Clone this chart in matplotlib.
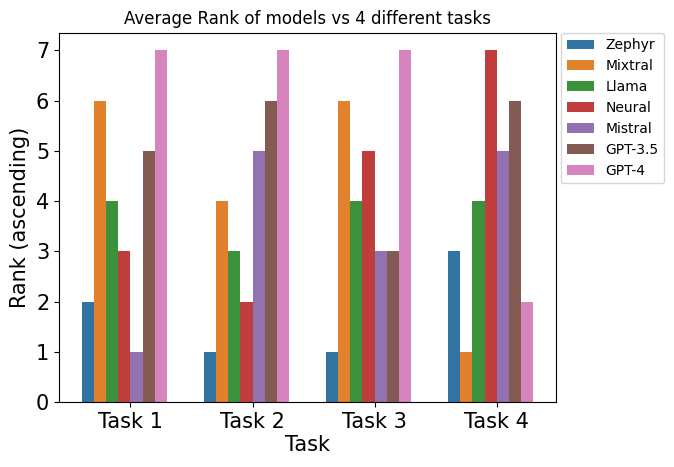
import numpy as np
import matplotlib
matplotlib.use("Agg")
import matplotlib.pyplot as plt
import seaborn as sns

tasks = ["Task 1", "Task 2", "Task 3", "Task 4"]
models = ["Zephyr", "Mixtral", "Llama", "Neural", "Mistral", "GPT-3.5", "GPT-4"]
zephyr = [2, 1, 1, 3]
mixtral = [6, 4, 6, 1]
llama = [4, 3, 4, 4]
neural = [3, 2, 5, 7]
mistral = [1, 5, 3, 5]
gpt35 = [5, 6, 3, 6]
gpt4 = [7, 7, 7, 2]

ranks = [zephyr, mixtral, llama, neural, mistral, gpt35, gpt4]

# matplotlib default cycle, desaturated like seaborn barplot does
colors = [sns.desaturate(c, 0.75) for c in sns.color_palette("tab10")]

fig = plt.figure(figsize=(6.74, 4.67), dpi=100)
ax = fig.add_axes([0.0875, 0.139, 0.7375, 0.791])

x = np.arange(len(tasks))
w = 0.1
for k, (m, vals) in enumerate(zip(models, ranks)):
    ax.bar(x - 0.4 + k * w, vals, width=w, align="edge", color=colors[k], label=m)

ax.set_xticks(x)
ax.set_xticklabels(tasks)
ax.set_title("Average Rank of models vs 4 different tasks", fontsize=12)
ax.set_xlabel("Task", fontsize=15, labelpad=2)
ax.set_ylabel("Rank (ascending)", fontsize=15)
ax.tick_params(axis="both", labelsize=15)
ax.legend(loc="upper left", bbox_to_anchor=(1.01, 1), borderaxespad=0, fontsize=10)
fig.savefig("out.png", dpi=100)
